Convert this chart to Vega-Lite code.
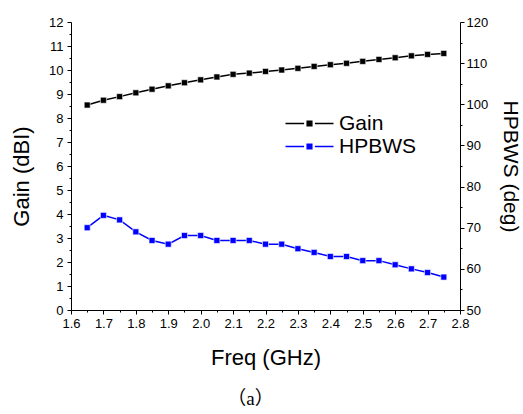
{
  "$schema": "https://vega.github.io/schema/vega-lite/v6.json",
  "width": 389,
  "height": 288,
  "autosize": "none",
  "padding": {"left": 71, "top": 22, "right": 63, "bottom": 104},
  "background": "white",
  "config": {
    "view": {"stroke": null},
    "axis": {
      "grid": false,
      "domainColor": "#000000",
      "tickColor": "#000000",
      "labelColor": "#000000",
      "titleColor": "#000000",
      "labelFont": "Liberation Sans",
      "titleFont": "Liberation Sans",
      "labelFontSize": 13,
      "titleFontSize": 22,
      "titleFontWeight": "normal",
      "domainWidth": 1,
      "tickWidth": 1,
      "tickSize": 4,
      "labelPadding": 3
    }
  },
  "title": {
    "text": "（a）",
    "orient": "bottom",
    "anchor": "middle",
    "frame": "group",
    "font": "Liberation Serif, Noto Sans CJK SC",
    "fontSize": 19,
    "fontWeight": "normal",
    "color": "#000000",
    "dx": -15,
    "offset": 22
  },
  "datasets": {
    "d": [
      {"freq": 1.65, "series": "Gain", "value": 8.54},
      {"freq": 1.70, "series": "Gain", "value": 8.74},
      {"freq": 1.75, "series": "Gain", "value": 8.89},
      {"freq": 1.80, "series": "Gain", "value": 9.05},
      {"freq": 1.85, "series": "Gain", "value": 9.2},
      {"freq": 1.90, "series": "Gain", "value": 9.34},
      {"freq": 1.95, "series": "Gain", "value": 9.47},
      {"freq": 2.00, "series": "Gain", "value": 9.59},
      {"freq": 2.05, "series": "Gain", "value": 9.71},
      {"freq": 2.10, "series": "Gain", "value": 9.82},
      {"freq": 2.15, "series": "Gain", "value": 9.87},
      {"freq": 2.20, "series": "Gain", "value": 9.94},
      {"freq": 2.25, "series": "Gain", "value": 10.0},
      {"freq": 2.30, "series": "Gain", "value": 10.07},
      {"freq": 2.35, "series": "Gain", "value": 10.15},
      {"freq": 2.40, "series": "Gain", "value": 10.22},
      {"freq": 2.45, "series": "Gain", "value": 10.28},
      {"freq": 2.50, "series": "Gain", "value": 10.36},
      {"freq": 2.55, "series": "Gain", "value": 10.44},
      {"freq": 2.60, "series": "Gain", "value": 10.51},
      {"freq": 2.65, "series": "Gain", "value": 10.59},
      {"freq": 2.70, "series": "Gain", "value": 10.65},
      {"freq": 2.75, "series": "Gain", "value": 10.69},
      {"freq": 1.65, "series": "HPBWS", "value": 70.0},
      {"freq": 1.70, "series": "HPBWS", "value": 73.0},
      {"freq": 1.75, "series": "HPBWS", "value": 71.9},
      {"freq": 1.80, "series": "HPBWS", "value": 69.0},
      {"freq": 1.85, "series": "HPBWS", "value": 66.9},
      {"freq": 1.90, "series": "HPBWS", "value": 66.0},
      {"freq": 1.95, "series": "HPBWS", "value": 68.1},
      {"freq": 2.00, "series": "HPBWS", "value": 68.1},
      {"freq": 2.05, "series": "HPBWS", "value": 66.9},
      {"freq": 2.10, "series": "HPBWS", "value": 66.9},
      {"freq": 2.15, "series": "HPBWS", "value": 66.9},
      {"freq": 2.20, "series": "HPBWS", "value": 66.0},
      {"freq": 2.25, "series": "HPBWS", "value": 66.0},
      {"freq": 2.30, "series": "HPBWS", "value": 64.9},
      {"freq": 2.35, "series": "HPBWS", "value": 64.0},
      {"freq": 2.40, "series": "HPBWS", "value": 63.0},
      {"freq": 2.45, "series": "HPBWS", "value": 63.0},
      {"freq": 2.50, "series": "HPBWS", "value": 62.0},
      {"freq": 2.55, "series": "HPBWS", "value": 62.0},
      {"freq": 2.60, "series": "HPBWS", "value": 61.0},
      {"freq": 2.65, "series": "HPBWS", "value": 60.0},
      {"freq": 2.70, "series": "HPBWS", "value": 59.1},
      {"freq": 2.75, "series": "HPBWS", "value": 58.0}
    ]
  },
  "layer": [
    {
      "data": {"name": "d"},
      "transform": [{"filter": "datum.series === 'Gain'"}],
      "mark": {"type": "line", "strokeWidth": 1.5, "point": {"shape": "square", "size": 36, "filled": true, "stroke": "white", "strokeWidth": 0.6}},
      "encoding": {
        "x": {
          "field": "freq", "type": "quantitative",
          "scale": {"domain": [1.6, 2.8], "nice": false, "zero": false},
          "axis": {"orient": "bottom", "values": [1.6, 1.7, 1.8, 1.9, 2.0, 2.1, 2.2, 2.3, 2.4, 2.5, 2.6, 2.7, 2.8], "format": ".1f", "title": "Freq (GHz)", "titlePadding": 17, "labelFlush": false, "labelOverlap": false}
        },
        "y": {
          "field": "value", "type": "quantitative",
          "scale": {"domain": [0, 12], "nice": false},
          "axis": {"orient": "left", "values": [0, 1, 2, 3, 4, 5, 6, 7, 8, 9, 10, 11, 12], "title": "Gain (dBI)", "titlePadding": 15, "titleY": 154, "labelPadding": 4, "labelFlush": false, "labelOverlap": false}
        },
        "color": {
          "field": "series", "type": "nominal",
          "scale": {"domain": ["Gain", "HPBWS"], "range": ["#000000", "#0000ff"]},
          "legend": {
            "orient": "none", "legendX": 228, "legendY": 91,
            "title": null, "padding": 0,
            "symbolType": "M-4,0H-0.9M-0.4,-0.4H0.4V0.4H-0.4ZM0.9,0H4",
            "symbolSize": 144, "symbolStrokeWidth": 1.3,
            "labelFont": "Liberation Sans", "labelFontSize": 21, "labelColor": "#000000",
            "labelOffset": 19, "rowPadding": 1,
            "encode": {"symbols": {"update": {"fill": {"scale": "color", "field": "value"}}}}
          }
        }
      }
    },
    {
      "data": {"name": "d"},
      "transform": [{"filter": "datum.series === 'HPBWS'"}],
      "mark": {"type": "line", "strokeWidth": 1.5, "point": {"shape": "square", "size": 36, "filled": true, "stroke": "white", "strokeWidth": 0.6}},
      "encoding": {
        "x": {
          "field": "freq", "type": "quantitative",
          "scale": {"domain": [1.6, 2.8], "nice": false, "zero": false},
          "axis": null
        },
        "y": {
          "field": "value", "type": "quantitative",
          "scale": {"domain": [50, 120], "nice": false, "zero": false},
          "axis": {"orient": "right", "values": [50, 60, 70, 80, 90, 100, 110, 120], "title": "HPBWS (deg)", "titleFontSize": 21, "titlePadding": 12, "labelPadding": 2, "labelFlush": false, "labelOverlap": false}
        },
        "color": {"field": "series", "type": "nominal"}
      }
    },
    {
      "data": {"name": "d"},
      "transform": [{"filter": "datum.series === 'Gain'"}],
      "mark": {"type": "point", "opacity": 0},
      "encoding": {
        "x": {
          "field": "freq", "type": "quantitative",
          "scale": {"domain": [1.6, 2.8], "nice": false, "zero": false},
          "axis": {"orient": "bottom", "values": [1.65, 1.75, 1.85, 1.95, 2.05, 2.15, 2.25, 2.35, 2.45, 2.55, 2.65, 2.75], "labels": false, "domain": false, "tickSize": 2, "title": null}
        },
        "y": {
          "field": "value", "type": "quantitative",
          "scale": {"domain": [0, 12], "nice": false},
          "axis": {"orient": "left", "values": [0.5, 1.5, 2.5, 3.5, 4.5, 5.5, 6.5, 7.5, 8.5, 9.5, 10.5, 11.5], "labels": false, "domain": false, "tickSize": 2, "title": null}
        }
      }
    },
    {
      "data": {"name": "d"},
      "transform": [{"filter": "datum.series === 'HPBWS'"}],
      "mark": {"type": "point", "opacity": 0},
      "encoding": {
        "x": {
          "field": "freq", "type": "quantitative",
          "scale": {"domain": [1.6, 2.8], "nice": false, "zero": false},
          "axis": null
        },
        "y": {
          "field": "value", "type": "quantitative",
          "scale": {"domain": [50, 120], "nice": false, "zero": false},
          "axis": {"orient": "right", "values": [55, 65, 75, 85, 95, 105, 115], "labels": false, "domain": false, "tickSize": 2, "title": null}
        }
      }
    }
  ],
  "resolve": {
    "scale": {"x": "independent", "y": "independent"},
    "axis": {"x": "independent", "y": "independent"}
  }
}
